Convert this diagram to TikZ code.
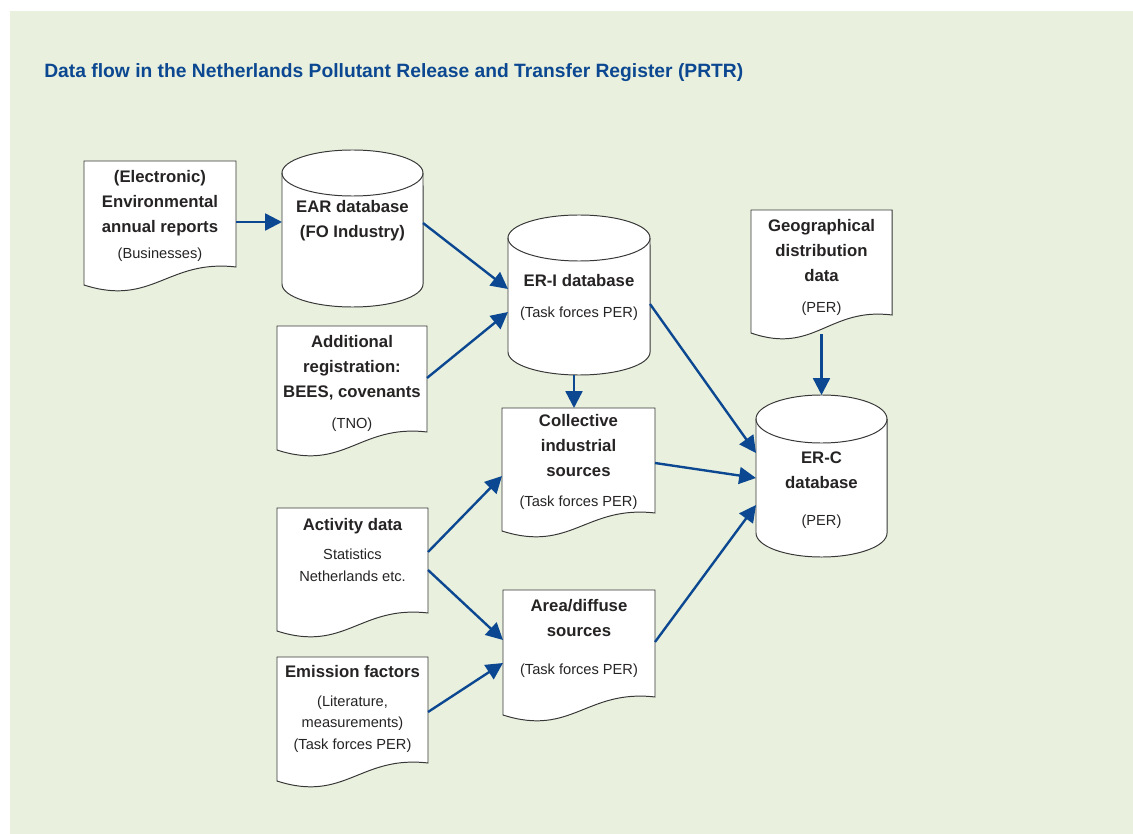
\documentclass[tikz,border=0pt]{standalone}
\usepackage{fontspec}
\setmainfont{Liberation Sans}
\usetikzlibrary{arrows.meta,fit}
\definecolor{panelgreen}{RGB}{233,241,222}
\definecolor{prtrblue}{RGB}{12,72,145}
\definecolor{outlinegray}{RGB}{55,55,55}
\definecolor{textgray}{RGB}{38,35,35}

\newcommand{\hd}[1]{{\fontsize{11.9}{16}\selectfont\bfseries #1}}
% sheet with wavy lower edge: name, x1, top, x2, bottom of right edge
\newcommand{\docshape}[5]{%
  \node[fit={(#2,#3) (#4,#5)}, inner sep=0pt, outer sep=0pt] (#1) {};
  \draw[outline] (#1.south east) -- (#1.north east) -- (#1.north west) -- ([yshift=-0.45cm]#1.south west)
    .. controls ({#2+0.45*(#4-#2)},{#5+40}) and ({#2+0.55*(#4-#2)},{#5-8}) .. (#1.south east) -- cycle;}
% database drum: name, x1, top axis, x2, bottom axis, x radius, y radius
\newcommand{\dbshape}[7]{%
  \node[fit={(#2,#3) (#4,#5)}, inner sep=0pt, outer sep=0pt] (#1) {};
  \draw[outline] (#1.north west) -- (#1.south west) arc[start angle=180, end angle=360, x radius=#6, y radius=#7]
    -- (#1.north east) arc[start angle=0, end angle=180, x radius=#6, y radius=#7] -- cycle;
  \draw[outline, fill=none] (#1.north west) arc[start angle=180, end angle=360, x radius=#6, y radius=#7];
  \coordinate (#1-top) at ([yshift=#7]#1.north);
  \coordinate (#1-bottom) at ([yshift=-#7]#1.south);}

\begin{document}
\begin{tikzpicture}[x=0.025cm, y=-0.025cm,
    outline/.style={draw=outlinegray, fill=white, line width=0.7pt},
    txt/.style={font=\fontsize{10.4}{16}\selectfont, text=textgray, align=center, inner sep=0pt},
    flow/.style={draw=prtrblue, line width=1.7pt, -{Triangle[length=0.42cm, width=0.42cm]}}]
			%%%%% START %%%%%
			
			\fill[white] (0,0) rectangle (1133,834);
			\fill[panelgreen] (10,11) rectangle (1133,834);
			\useasboundingbox (0,0) rectangle (1133,834);
			
			\node[anchor=west, text=prtrblue, font=\fontsize{13.7}{16}\selectfont\bfseries, inner sep=0pt] (title) at (44,73)
				{Data flow in the Netherlands Pollutant Release and Transfer Register (PRTR)};
			
			% sources
			\docshape{elec}{84}{161}{236}{267}
			\docshape{addl}{277}{326}{427}{432}
			\docshape{act}{277}{508}{428}{613}
			\docshape{emis}{277}{657}{428}{763}
			\docshape{geo}{751}{210}{892}{315}
			
			% intermediate
			\docshape{coll}{502}{408}{655}{513}
			\docshape{area}{503}{590}{655}{697}
			
			% databases
			\dbshape{ear}{282}{173}{423}{284}{1.7625cm}{0.575cm}
			\dbshape{eri}{508}{238}{650}{352}{1.775cm}{0.575cm}
			\dbshape{erc}{756}{419}{887}{533}{1.6375cm}{0.6cm}
			
			\node[txt] (elec-t) at (160,215.5) {\hd{(Electronic)}\\[1.8pt]\hd{Environmental}\\[1.8pt]\hd{annual reports}\\[2.5pt](Businesses)};
			\node[txt] (ear-t) at (352.5,220.5) {\hd{EAR database}\\[1.8pt]\hd{(FO Industry)}};
			\node[txt] (eri-t) at (579,297.5) {\hd{ER-I database}\\[6pt](Task forces PER)};
			\node[txt] (geo-t) at (821.5,267.5) {\hd{Geographical}\\[1.8pt]\hd{distribution}\\[1.8pt]\hd{data}\\[6pt](PER)};
			\node[txt] (addl-t) at (352,383) {\hd{Additional}\\[1.8pt]\hd{registration:}\\[1.8pt]\hd{BEES, covenants}\\[6pt](TNO)};
			\node[txt] (coll-t) at (578.5,462) {\hd{Collective}\\[1.8pt]\hd{industrial}\\[1.8pt]\hd{sources}\\[5.5pt](Task forces PER)};
			\node[txt] (erc-t) at (821.5,490) {\hd{ER-C}\\[1.8pt]\hd{database}\\[10.5pt](PER)};
			\node[txt] (act-t) at (352.5,550) {\hd{Activity data}\\[4.6pt]Statistics\\Netherlands etc.};
			\node[txt] (area-t) at (579,638) {\hd{Area/diffuse}\\[1.8pt]\hd{sources}\\[11pt](Task forces PER)};
			\node[txt] (emis-t) at (352.5,709) {\hd{Emission factors}\\[4.6pt](Literature,\\[-0.8pt]measurements)\\[-0.5pt](Task forces PER)};
			
			% flows
			\draw[flow] (elec.east |- 0,222) -- (ear.west |- 0,222);
			\draw[flow] (ear.east |- 0,223) -- (eri.west |- 0,289);
			\draw[flow] (addl.east |- 0,378) -- (eri.west |- 0,312);
			\draw[flow] (eri-bottom -| 574,0) -- (coll.north -| 574,0);
			\draw[flow] (eri.east |- 0,304) -- (erc.west |- 0,453);
			\draw[flow] (geo.south |- 0,334) -- (erc-top);
			\draw[flow] (coll.east |- 0,463) -- (erc.west |- 0,478);
			\draw[flow] (area.east |- 0,642) -- (erc.west |- 0,505);
			\draw[flow] (act.east |- 0,552) -- (coll.west |- 0,476);
			\draw[flow] (act.east |- 0,570) -- (area.west |- 0,640);
			\draw[flow] (emis.east |- 0,712) -- (area.west |- 0,663);
			
			%%%%% END %%%%%
\end{tikzpicture}
\end{document}
